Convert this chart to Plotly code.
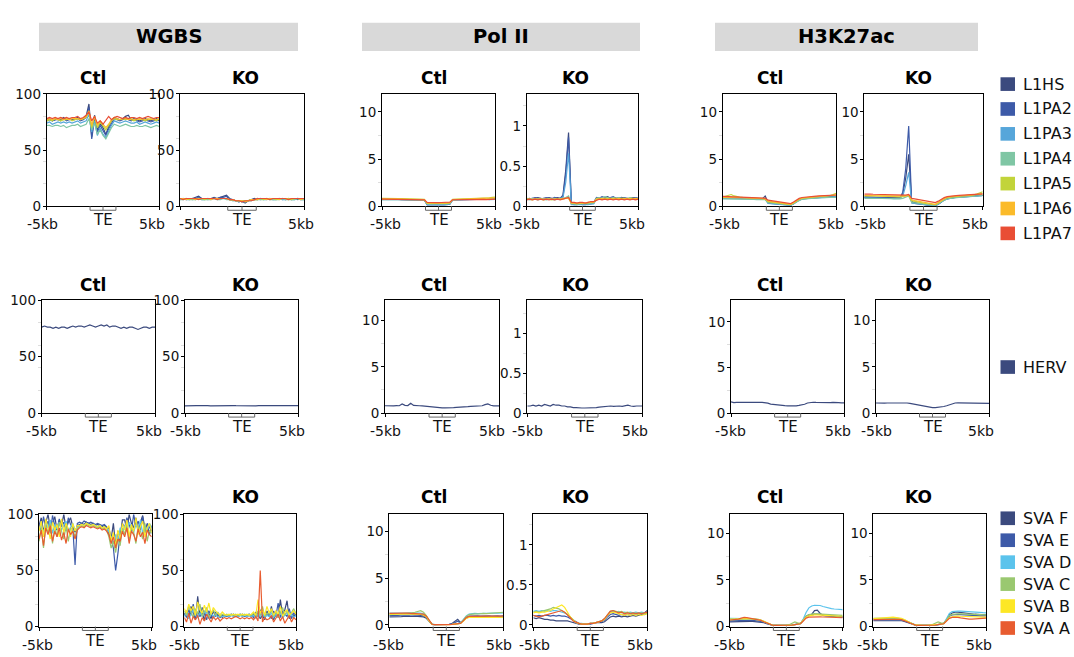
import numpy as np
import plotly.graph_objects as go

W, H = 1074, 657
FONT = "DejaVu Sans, Liberation Sans, Arial, sans-serif"

assays = ["WGBS", "Pol II", "H3K27ac"]
conditions = ["Ctl", "KO"]

L1_names = ["L1HS", "L1PA2", "L1PA3", "L1PA4", "L1PA5", "L1PA6", "L1PA7"]
L1_colors = ["#3b4a7e", "#3d5aa8", "#56a6da", "#7fc6a4", "#c2d43a", "#fbbb2a", "#e94e35"]
HERV_names = ["HERV"]
HERV_colors = ["#3b4a7e"]
SVA_names = ["SVA F", "SVA E", "SVA D", "SVA C", "SVA B", "SVA A"]
SVA_colors = ["#3b4a7e", "#3d5aa8", "#5bc3ec", "#9ac870", "#fde725", "#e85c30"]

# bins along the meta-profile: -5kb .. TE body (scaled) .. +5kb
bins41 = np.linspace(0, 100, 41)
bins51 = np.linspace(0, 100, 51)
te_start, te_end = 38.5, 61.5

x_label_left, x_label_mid, x_label_right = "-5kb", "TE", "5kb"

# ---------------- L1 row ----------------
wgbs_ctl_L1 = [
    [77,78,76,77,78,77,79,77,78,77,78,79,77,78,80, 91,62,81,68,74,70,64,71,76,79, 78,77,78,80,81,77,78,77,76,77,78,77,76,77,78,77],
    [76,77,76,77,77,76,78,76,77,77,77,78,76,77,79, 88,60,78,66,72,67,63,69,74,78, 77,76,77,78,77,76,77,76,75,76,77,76,75,76,77,76],
    [74,75,73,74,75,74,75,74,75,74,75,76,74,75,76, 82,66,76,63,70,64,61,67,72,76, 75,74,75,76,75,74,74,75,73,74,75,74,73,74,75,74],
    [72,72,71,72,72,71,72,70,71,72,72,73,71,72,73, 78,68,74,64,68,63,60,65,70,73, 72,71,72,73,72,71,71,72,71,71,72,71,70,71,72,71],
    [76,77,76,78,77,76,77,77,78,76,77,78,77,78,79, 84,70,80,70,75,72,68,72,76,78, 77,77,78,77,78,77,76,77,78,77,76,77,78,77,76,78],
    [77,78,77,78,77,78,77,78,77,78,78,78,77,78,80, 85,72,80,72,76,73,70,73,77,79, 78,77,78,78,77,78,77,78,77,78,77,78,77,78,77,78],
    [78,79,78,79,78,79,78,79,78,79,79,80,78,79,81, 84,76,80,74,76,73,77,80,77,79, 80,79,78,79,78,79,79,78,79,78,79,80,79,78,79,79],
]
wgbs_ko_L1 = [
    [7,7,6,7,7,8,9,7,7,7,7,8,7,8,9, 10,7,6,5,4,5,3,5,6,7, 6,7,7,7,6,7,7,7,7,6,7,7,7,6,7,7],
    [7,6,7,7,6,7,8,7,7,6,7,7,7,8,8, 9,6,6,5,5,4,4,5,6,6, 7,6,7,7,7,6,7,7,6,7,7,6,7,7,6,7],
    [6,7,6,6,7,6,7,6,6,7,6,7,6,7,7, 7,6,5,5,4,5,4,5,5,6, 6,7,6,6,7,6,6,7,6,6,7,6,6,7,6,6],
    [6,6,7,6,6,6,7,6,6,6,6,7,6,6,7, 6,6,5,5,5,4,5,5,5,6, 6,6,6,7,6,6,6,6,7,6,6,6,6,7,6,6],
    [7,7,7,6,7,7,7,7,6,7,7,7,7,7,7, 7,6,6,5,5,5,5,5,6,6, 7,7,6,7,7,7,6,7,7,7,7,6,7,7,7,7],
    [7,7,6,7,7,6,7,7,7,7,6,7,7,7,7, 7,6,6,5,5,5,4,5,6,6, 6,7,7,6,7,7,7,6,7,7,6,7,7,7,6,7],
    [7,6,7,7,7,7,6,7,7,7,7,7,6,7,7, 7,6,6,5,5,4,5,5,5,6, 7,7,7,7,6,7,7,7,7,7,6,7,7,7,7,7],
]
pol_ctl_L1 = [
    [0.78,0.77,0.78,0.76,0.75,0.76,0.74,0.73,0.74,0.72,0.71,0.72,0.70,0.69,0.68,0.66, 0.22,0.20,0.19,0.20,0.21,0.20,0.22,0.24,0.28, 0.70,0.71,0.72,0.71,0.73,0.72,0.74,0.76,0.73,0.75,0.78,0.74,0.76,0.77,0.75,0.76],
    [0.74,0.75,0.73,0.74,0.73,0.72,0.73,0.71,0.72,0.70,0.71,0.69,0.70,0.68,0.67,0.65, 0.15,0.14,0.13,0.14,0.15,0.14,0.15,0.17,0.22, 0.68,0.69,0.70,0.72,0.71,0.70,0.73,0.72,0.74,0.73,0.75,0.74,0.73,0.75,0.74,0.76],
    [0.72,0.73,0.72,0.71,0.72,0.71,0.70,0.71,0.70,0.69,0.70,0.68,0.69,0.67,0.66,0.65, 0.18,0.17,0.16,0.17,0.18,0.17,0.18,0.20,0.24, 0.67,0.68,0.70,0.69,0.71,0.70,0.72,0.70,0.72,0.74,0.72,0.73,0.75,0.72,0.74,0.73],
    [0.70,0.71,0.70,0.72,0.71,0.70,0.71,0.69,0.70,0.68,0.69,0.68,0.67,0.66,0.66,0.64, 0.25,0.24,0.23,0.24,0.25,0.24,0.25,0.27,0.30, 0.68,0.70,0.69,0.71,0.72,0.74,0.76,0.80,0.78,0.74,0.76,0.78,0.80,0.77,0.78,0.80],
    [0.84,0.85,0.84,0.83,0.84,0.82,0.83,0.82,0.81,0.80,0.81,0.79,0.78,0.77,0.76,0.74, 0.30,0.29,0.28,0.29,0.30,0.29,0.30,0.32,0.35, 0.75,0.76,0.78,0.77,0.79,0.78,0.80,0.82,0.80,0.84,0.86,0.84,0.88,0.90,0.94,0.98],
    [0.80,0.81,0.80,0.80,0.79,0.80,0.79,0.78,0.78,0.77,0.77,0.76,0.75,0.74,0.73,0.72, 0.35,0.34,0.33,0.34,0.35,0.34,0.35,0.37,0.40, 0.72,0.73,0.74,0.75,0.74,0.76,0.75,0.77,0.76,0.78,0.80,0.78,0.82,0.85,0.88,0.90],
    [0.76,0.75,0.76,0.74,0.75,0.74,0.73,0.74,0.72,0.73,0.71,0.72,0.70,0.70,0.69,0.68, 0.42,0.40,0.40,0.41,0.40,0.41,0.42,0.43,0.45, 0.70,0.71,0.70,0.72,0.71,0.73,0.72,0.71,0.73,0.72,0.74,0.73,0.72,0.75,0.74,0.76],
]
pol_ko_L1 = [
    [0.09,0.10,0.09,0.10,0.11,0.10,0.09,0.10,0.11,0.10,0.10,0.11,0.10,0.14,0.45,0.92, 0.04,0.03,0.03,0.04,0.03,0.03,0.04,0.04,0.05, 0.10,0.11,0.10,0.11,0.12,0.10,0.11,0.10,0.09,0.11,0.10,0.09,0.10,0.11,0.10,0.10],
    [0.10,0.09,0.10,0.11,0.10,0.09,0.10,0.11,0.10,0.09,0.11,0.10,0.10,0.12,0.40,0.86, 0.03,0.02,0.02,0.03,0.02,0.02,0.03,0.03,0.04, 0.11,0.10,0.12,0.11,0.10,0.11,0.12,0.10,0.11,0.10,0.11,0.10,0.09,0.10,0.11,0.10],
    [0.09,0.09,0.10,0.09,0.09,0.10,0.09,0.10,0.09,0.09,0.10,0.09,0.10,0.11,0.30,0.66, 0.02,0.02,0.02,0.02,0.02,0.02,0.02,0.03,0.03, 0.09,0.10,0.09,0.10,0.10,0.09,0.10,0.09,0.10,0.09,0.10,0.09,0.10,0.09,0.10,0.09],
    [0.09,0.08,0.09,0.09,0.08,0.09,0.09,0.08,0.09,0.09,0.08,0.09,0.09,0.10,0.11,0.13, 0.03,0.03,0.02,0.03,0.03,0.03,0.03,0.04,0.04, 0.10,0.11,0.10,0.12,0.11,0.10,0.11,0.10,0.11,0.10,0.09,0.10,0.11,0.10,0.09,0.10],
    [0.09,0.09,0.08,0.09,0.09,0.09,0.08,0.09,0.09,0.08,0.09,0.09,0.09,0.09,0.10,0.10, 0.04,0.04,0.03,0.04,0.04,0.04,0.04,0.05,0.05, 0.09,0.10,0.09,0.10,0.10,0.09,0.10,0.10,0.09,0.10,0.10,0.09,0.10,0.10,0.09,0.10],
    [0.09,0.09,0.09,0.09,0.09,0.09,0.09,0.09,0.09,0.09,0.09,0.09,0.09,0.10,0.10,0.10, 0.04,0.04,0.04,0.04,0.04,0.04,0.05,0.05,0.05, 0.09,0.09,0.10,0.09,0.09,0.10,0.09,0.09,0.10,0.09,0.09,0.10,0.09,0.09,0.10,0.09],
    [0.08,0.09,0.08,0.09,0.08,0.09,0.08,0.09,0.08,0.09,0.08,0.09,0.08,0.09,0.10,0.11, 0.05,0.05,0.04,0.05,0.05,0.04,0.05,0.06,0.06, 0.08,0.09,0.08,0.09,0.08,0.09,0.08,0.09,0.08,0.09,0.08,0.09,0.08,0.09,0.08,0.09],
]
h3_ctl_L1 = [
    [0.95,0.93,0.92,0.94,0.90,0.91,0.89,0.88,0.87,0.86,0.85,0.83,0.82,0.80,0.78,1.10, 0.45,0.40,0.35,0.32,0.30,0.26,0.22,0.18,0.15, 0.30,0.55,0.70,0.80,0.85,0.88,0.90,0.92,0.91,0.94,0.95,0.97,0.98,1.00,1.02,1.05],
    [0.90,0.89,0.88,0.90,0.87,0.86,0.85,0.84,0.83,0.82,0.81,0.80,0.79,0.77,0.75,0.85, 0.35,0.30,0.27,0.24,0.22,0.20,0.17,0.14,0.12, 0.28,0.52,0.68,0.78,0.83,0.86,0.88,0.90,0.92,0.93,0.95,0.96,0.98,1.00,1.01,1.03],
    [0.85,0.84,0.83,0.85,0.82,0.82,0.81,0.80,0.79,0.78,0.77,0.76,0.75,0.74,0.72,0.75, 0.30,0.27,0.24,0.22,0.20,0.18,0.15,0.13,0.11, 0.26,0.50,0.66,0.76,0.81,0.84,0.86,0.88,0.89,0.90,0.92,0.93,0.95,0.96,0.98,1.00],
    [0.80,0.80,0.79,0.81,0.79,0.78,0.78,0.77,0.76,0.75,0.74,0.73,0.72,0.71,0.70,0.72, 0.40,0.36,0.32,0.30,0.27,0.24,0.21,0.18,0.16, 0.30,0.52,0.66,0.75,0.80,0.83,0.85,0.87,0.88,0.90,0.91,0.92,0.94,0.95,0.97,0.98],
    [0.98,1.05,1.15,1.25,1.10,1.02,0.98,0.95,0.93,0.92,0.90,0.88,0.86,0.84,0.82,0.80, 0.50,0.45,0.40,0.37,0.34,0.30,0.26,0.22,0.18, 0.34,0.58,0.74,0.84,0.90,0.93,0.95,0.97,0.99,1.01,1.03,1.06,1.10,1.15,1.25,1.38],
    [0.95,0.96,0.95,0.97,0.94,0.93,0.92,0.91,0.90,0.89,0.88,0.86,0.85,0.83,0.81,0.80, 0.55,0.50,0.46,0.42,0.38,0.34,0.30,0.26,0.22, 0.38,0.62,0.78,0.88,0.93,0.96,0.98,1.00,1.02,1.04,1.06,1.08,1.10,1.12,1.14,1.18],
    [1.05,1.04,1.03,1.05,1.02,1.01,1.00,0.98,0.97,0.96,0.95,0.93,0.92,0.90,0.88,0.86, 0.65,0.60,0.56,0.52,0.48,0.44,0.40,0.35,0.30, 0.45,0.68,0.84,0.94,0.98,1.02,1.04,1.06,1.08,1.10,1.12,1.13,1.15,1.16,1.18,1.20],
]
h3_ko_L1 = [
    [1.00,0.98,0.99,0.97,0.96,0.95,0.94,0.93,0.92,0.90,0.89,0.88,0.90,1.30,3.00,5.50, 0.50,0.40,0.32,0.26,0.22,0.18,0.14,0.11,0.10, 0.25,0.50,0.70,0.82,0.90,0.95,0.98,1.00,1.02,1.04,1.06,1.08,1.10,1.12,1.15,1.18],
    [0.95,0.94,0.95,0.93,0.92,0.91,0.90,0.89,0.88,0.87,0.86,0.85,0.88,1.50,4.00,8.50, 0.40,0.32,0.26,0.21,0.17,0.14,0.11,0.09,0.08, 0.22,0.48,0.68,0.80,0.88,0.93,0.96,0.98,1.00,1.02,1.04,1.06,1.08,1.10,1.12,1.15],
    [0.90,0.90,0.89,0.88,0.88,0.87,0.86,0.85,0.84,0.83,0.82,0.82,0.84,1.10,2.20,3.60, 0.35,0.30,0.25,0.20,0.17,0.14,0.12,0.10,0.09, 0.22,0.46,0.66,0.78,0.86,0.90,0.94,0.96,0.98,1.00,1.02,1.04,1.06,1.08,1.10,1.12],
    [0.85,0.86,0.85,0.84,0.84,0.83,0.83,0.82,0.81,0.80,0.80,0.79,0.80,0.85,0.95,1.10, 0.40,0.35,0.30,0.26,0.22,0.19,0.16,0.13,0.12, 0.25,0.48,0.66,0.78,0.85,0.90,0.93,0.95,0.97,0.99,1.01,1.03,1.05,1.07,1.10,1.15],
    [1.10,1.12,1.15,1.12,1.10,1.08,1.06,1.05,1.04,1.02,1.01,1.00,1.00,1.02,1.05,1.15, 0.60,0.52,0.45,0.40,0.35,0.30,0.26,0.22,0.18, 0.35,0.60,0.80,0.92,0.98,1.02,1.05,1.08,1.10,1.12,1.15,1.18,1.22,1.30,1.40,1.55],
    [1.15,1.16,1.15,1.14,1.13,1.12,1.11,1.10,1.09,1.08,1.07,1.06,1.06,1.08,1.10,1.20, 0.70,0.62,0.55,0.48,0.42,0.36,0.30,0.26,0.22, 0.40,0.64,0.84,0.96,1.02,1.06,1.08,1.10,1.12,1.14,1.16,1.18,1.20,1.24,1.28,1.32],
    [1.30,1.32,1.30,1.28,1.27,1.26,1.25,1.24,1.22,1.20,1.18,1.16,1.15,1.15,1.18,1.25, 0.85,0.80,0.74,0.68,0.62,0.56,0.50,0.45,0.40, 0.55,0.76,0.92,1.02,1.08,1.12,1.14,1.16,1.18,1.20,1.22,1.24,1.26,1.28,1.30,1.32],
]

# ---------------- HERV row ----------------
wgbs_ctl_HERV = [[76,77,76,76,75,76,75,76,76,75,76,77,76,77,77,76, 77,78,77,76,77,78,77,78,76, 77,77,76,75,76,75,76,76,75,74,75,76,76,75,76,76]]
wgbs_ko_HERV = [[6.5,6.7,6.6,6.5,6.7,6.6,6.8,6.6,6.7,6.5,6.6,6.7,6.6,6.8,6.9,6.7, 6.6,6.7,6.6,6.5,6.6,6.5,6.6,6.7,6.6, 6.5,6.6,6.7,6.5,6.6,6.6,6.5,6.7,6.6,6.5,6.8,6.6,6.5,6.6,6.7,6.6]]
pol_ctl_HERV = [[0.80,0.78,0.80,0.79,0.82,0.80,1.00,0.85,0.82,1.08,0.84,0.85,0.80,0.78,0.75,0.68, 0.62,0.60,0.58,0.57,0.58,0.57,0.56,0.58,0.60, 0.62,0.66,0.70,0.72,0.70,0.73,0.75,0.72,0.76,0.80,0.92,1.00,0.85,0.78,0.80,0.78]]
pol_ko_HERV = [[0.09,0.09,0.10,0.09,0.10,0.09,0.11,0.10,0.09,0.11,0.10,0.10,0.09,0.09,0.08,0.08, 0.07,0.07,0.065,0.065,0.065,0.065,0.065,0.07,0.07, 0.075,0.08,0.085,0.085,0.09,0.085,0.09,0.09,0.085,0.09,0.10,0.09,0.085,0.09,0.09,0.09]]
h3_ctl_HERV = [[1.25,1.15,1.18,1.20,1.18,1.20,1.18,1.20,1.22,1.18,1.20,1.18,1.16,1.10,1.00,0.95, 0.90,0.87,0.85,0.82,0.80,0.78,0.78,0.80,0.85, 0.90,0.98,1.12,1.18,1.20,1.18,1.16,1.18,1.20,1.18,1.15,1.18,1.20,1.16,1.14,1.12]]
h3_ko_HERV = [[1.10,1.08,1.10,1.09,1.10,1.11,1.10,1.09,1.10,1.11,1.12,1.10,1.06,1.00,0.92,0.85, 0.78,0.72,0.66,0.62,0.60,0.60,0.62,0.66,0.72, 0.80,0.92,1.05,1.10,1.11,1.10,1.09,1.10,1.08,1.09,1.07,1.08,1.06,1.05,1.06,1.05]]

# ---------------- SVA row ----------------
wgbs_ctl_SVA = [
    [90,97,85,93,100,88,92,98,86,95,90,100,87,93,97,89,84,90, 91,92,91,93,92,91,92,90,91,90,89,90,88, 88,78,92,72,85,80,95, 95,86,100,92,88,97,84,93,99,87,91,82,90],
    [92,85,98,88,94,83,99,90,86,96,89,93,85,97,91,88,55,92, 93,92,94,93,92,93,92,91,92,91,90,91,89, 82,78,70,50,65,82,92, 88,97,90,85,100,89,94,86,98,83,92,88,85],
    [86,90,84,92,88,95,83,91,87,93,86,90,94,85,89,92,86,88, 90,91,90,92,91,90,91,90,89,90,88,89,87, 85,80,74,82,76,88,84, 90,85,93,88,84,91,87,95,83,90,86,92,88],
    [76,88,70,90,84,92,74,89,80,93,85,78,90,76,88,86,80,87, 89,90,89,91,90,89,90,89,88,89,87,88,86, 80,70,76,66,78,72,88, 82,92,76,88,84,74,90,85,78,92,76,86,83],
    [85,94,80,96,88,78,93,86,91,80,96,84,92,87,80,92,85,90, 90,91,90,92,91,90,91,90,89,90,88,89,87, 90,76,84,72,86,78,92, 86,95,80,91,85,97,82,89,94,80,88,92,84],
    [78,86,72,88,82,90,76,85,80,88,77,84,74,87,82,85,78,86, 88,89,88,90,89,88,89,88,87,88,86,87,85, 82,74,80,70,78,76,85, 80,88,74,85,82,76,87,80,84,74,86,82,80],
]
wgbs_ko_SVA = [
    [10,14,8,18,12,6,27,9,13,5,16,11,7,14,9,12,8,10, 9,10,9,10,11,10,9,10,11,10,9,10,9, 11,8,12,7,10,6,14, 9,18,6,12,8,24,10,15,23,7,12,9,11],
    [12,8,15,10,20,7,13,9,17,11,6,14,10,8,13,9,11,8, 10,9,10,11,10,9,10,11,10,9,10,11,10, 8,13,9,15,11,8,12, 10,7,14,9,21,8,13,11,9,16,7,12,10],
    [9,13,7,11,15,10,8,12,9,14,10,7,12,9,11,8,10,9, 9,10,9,10,9,10,9,10,9,10,9,10,9, 10,8,11,9,12,8,10, 9,12,8,11,9,13,8,10,12,9,11,8,10],
    [14,10,18,12,8,16,11,20,9,13,17,8,12,15,10,13,9,11, 10,11,10,11,10,11,10,11,10,11,10,11,10, 12,9,14,10,18,9,12, 11,15,9,13,8,12,17,10,14,9,12,16,11],
    [16,12,20,14,18,10,22,15,12,19,13,21,11,17,14,12,10,13, 11,10,11,10,11,10,11,10,11,10,11,10,11, 13,10,24,12,15,10,18, 12,16,10,14,11,18,9,13,15,10,12,14,11],
    [8,4,12,3,9,6,10,2,8,5,11,7,4,9,6,8,5,7, 8,7,8,7,8,9,8,7,8,7,8,7,8, 6,9,5,50,4,8,6, 7,10,4,8,11,5,9,3,7,10,4,8,6],
]
pol_ctl_SVA = [
    [0.85,0.84,0.86,0.88,0.87,0.90,0.88,0.92,0.90,0.93,0.92,0.90,0.85,0.70,0.35,0.05, 0.02,0.01,0.02,0.01,0.02,0.05,0.15,0.35,0.60, 0.25,0.45,0.75,0.85,0.88,0.86,0.84,0.85,0.83,0.85,0.84,0.86,0.85,0.84,0.86,0.85],
    [1.00,0.98,1.02,1.00,1.05,1.03,1.06,1.05,1.08,1.06,1.05,1.02,0.98,0.80,0.40,0.06, 0.03,0.02,0.02,0.02,0.03,0.04,0.10,0.25,0.40, 0.20,0.50,0.80,0.95,0.98,0.96,0.97,0.95,0.98,0.96,0.97,0.95,0.98,0.96,0.95,0.97],
    [1.25,1.24,1.26,1.25,1.27,1.25,1.26,1.28,1.27,1.29,1.28,1.25,1.18,0.95,0.45,0.08, 0.04,0.03,0.03,0.03,0.04,0.04,0.06,0.08,0.10, 0.20,0.55,0.95,1.15,1.20,1.22,1.20,1.22,1.24,1.22,1.25,1.23,1.26,1.25,1.27,1.28],
    [1.10,1.12,1.10,1.13,1.15,1.14,1.18,1.22,1.28,1.35,1.45,1.52,1.35,1.00,0.45,0.08, 0.04,0.03,0.03,0.03,0.04,0.04,0.06,0.08,0.10, 0.18,0.50,0.90,1.10,1.15,1.18,1.16,1.20,1.22,1.20,1.24,1.25,1.28,1.30,1.32,1.35],
    [1.15,1.14,1.16,1.15,1.14,1.16,1.15,1.14,1.15,1.16,1.14,1.12,1.05,0.85,0.40,0.06, 0.03,0.02,0.02,0.02,0.03,0.03,0.05,0.07,0.09, 0.15,0.40,0.70,0.82,0.80,0.82,0.80,0.81,0.80,0.82,0.81,0.80,0.82,0.81,0.80,0.82],
    [1.22,1.24,1.23,1.25,1.24,1.26,1.25,1.24,1.26,1.25,1.24,1.22,1.15,0.92,0.45,0.07, 0.03,0.02,0.02,0.02,0.03,0.03,0.05,0.07,0.09, 0.15,0.45,0.78,0.90,0.92,0.94,0.92,0.95,0.93,0.94,0.95,0.93,0.94,0.95,0.94,0.95],
]
pol_ko_SVA = [
    [0.09,0.08,0.09,0.08,0.07,0.07,0.06,0.06,0.05,0.05,0.05,0.05,0.05,0.04,0.03,0.02, 0.01,0.01,0.01,0.01,0.01,0.02,0.03,0.03,0.03, 0.04,0.07,0.10,0.11,0.10,0.11,0.10,0.11,0.10,0.11,0.12,0.11,0.12,0.13,0.15,0.18],
    [0.12,0.11,0.12,0.11,0.12,0.12,0.11,0.12,0.11,0.12,0.11,0.11,0.10,0.08,0.05,0.03, 0.02,0.01,0.01,0.01,0.02,0.02,0.03,0.04,0.04, 0.06,0.10,0.13,0.14,0.13,0.12,0.13,0.12,0.13,0.12,0.13,0.14,0.13,0.14,0.13,0.15],
    [0.17,0.18,0.17,0.18,0.17,0.18,0.17,0.18,0.18,0.17,0.16,0.15,0.13,0.10,0.06,0.03, 0.02,0.02,0.01,0.01,0.02,0.02,0.03,0.04,0.05, 0.07,0.12,0.16,0.17,0.16,0.17,0.15,0.16,0.15,0.16,0.15,0.16,0.15,0.16,0.15,0.16],
    [0.16,0.17,0.16,0.17,0.18,0.19,0.20,0.22,0.21,0.20,0.18,0.16,0.13,0.10,0.06,0.03, 0.02,0.01,0.01,0.01,0.02,0.02,0.03,0.04,0.05, 0.08,0.13,0.17,0.18,0.17,0.16,0.17,0.15,0.16,0.15,0.14,0.15,0.14,0.15,0.14,0.15],
    [0.15,0.16,0.15,0.16,0.16,0.17,0.18,0.20,0.22,0.24,0.25,0.22,0.16,0.10,0.06,0.03, 0.02,0.01,0.01,0.01,0.02,0.02,0.03,0.04,0.05, 0.07,0.12,0.15,0.16,0.15,0.14,0.13,0.12,0.13,0.12,0.13,0.12,0.13,0.12,0.13,0.14],
    [0.12,0.11,0.10,0.11,0.12,0.13,0.14,0.15,0.16,0.17,0.18,0.16,0.13,0.09,0.05,0.03, 0.02,0.01,0.01,0.01,0.02,0.02,0.03,0.04,0.05, 0.08,0.13,0.17,0.18,0.16,0.15,0.16,0.14,0.15,0.14,0.15,0.14,0.15,0.14,0.15,0.16],
]
h3_ctl_SVA = [
    [0.50,0.52,0.50,0.53,0.52,0.55,0.54,0.56,0.55,0.53,0.52,0.48,0.42,0.32,0.22,0.15, 0.12,0.11,0.11,0.12,0.12,0.13,0.15,0.20,0.30, 0.35,0.70,1.10,1.25,1.30,1.70,1.75,1.40,1.20,1.15,1.12,1.10,1.08,1.06,1.05,1.04],
    [0.60,0.62,0.63,0.64,0.65,0.66,0.66,0.67,0.66,0.64,0.62,0.56,0.46,0.34,0.22,0.15, 0.12,0.11,0.11,0.12,0.12,0.13,0.15,0.18,0.25, 0.30,0.65,1.05,1.20,1.28,1.30,1.32,1.28,1.25,1.20,1.15,1.10,1.08,1.05,1.02,1.00],
    [0.88,0.86,0.84,0.82,0.82,0.84,0.85,0.86,0.85,0.82,0.78,0.70,0.55,0.40,0.26,0.17, 0.13,0.12,0.12,0.12,0.13,0.14,0.15,0.18,0.22, 0.30,0.80,1.50,2.00,2.20,2.28,2.28,2.25,2.15,2.05,1.98,1.92,1.88,1.85,1.82,1.82],
    [0.72,0.74,0.75,0.76,0.78,0.80,0.80,0.82,0.80,0.78,0.74,0.66,0.52,0.38,0.25,0.16, 0.13,0.12,0.12,0.13,0.15,0.20,0.35,0.50,0.40, 0.35,0.70,1.10,1.28,1.35,1.38,1.36,1.35,1.32,1.30,1.28,1.25,1.24,1.22,1.21,1.20],
    [0.80,0.82,0.82,0.84,0.85,0.86,0.86,0.85,0.84,0.82,0.78,0.70,0.56,0.40,0.26,0.17, 0.13,0.12,0.12,0.12,0.13,0.14,0.16,0.20,0.25, 0.30,0.65,1.00,1.15,1.22,1.25,1.26,1.25,1.22,1.20,1.18,1.15,1.13,1.12,1.10,1.10],
    [0.70,0.72,0.74,0.80,0.90,0.98,0.96,0.90,0.85,0.80,0.75,0.66,0.52,0.38,0.25,0.16, 0.13,0.12,0.12,0.12,0.13,0.14,0.16,0.20,0.25, 0.30,0.60,0.90,1.00,1.02,1.04,1.05,1.03,1.02,1.00,0.98,0.97,0.96,0.95,0.95,0.94],
]
h3_ko_SVA = [
    [0.62,0.62,0.63,0.64,0.64,0.65,0.66,0.66,0.65,0.64,0.62,0.56,0.45,0.32,0.22,0.15, 0.12,0.11,0.11,0.11,0.12,0.13,0.15,0.20,0.28, 0.35,0.75,1.25,1.45,1.55,1.55,1.50,1.45,1.40,1.38,1.35,1.32,1.30,1.28,1.26,1.25],
    [0.70,0.70,0.71,0.72,0.72,0.73,0.74,0.74,0.73,0.72,0.70,0.62,0.50,0.35,0.23,0.15, 0.12,0.11,0.11,0.11,0.12,0.13,0.15,0.18,0.24, 0.32,0.70,1.10,1.25,1.30,1.30,1.28,1.25,1.22,1.20,1.18,1.17,1.16,1.15,1.15,1.14],
    [0.80,0.80,0.81,0.82,0.82,0.83,0.84,0.84,0.83,0.82,0.78,0.70,0.56,0.40,0.26,0.17, 0.13,0.12,0.12,0.12,0.13,0.14,0.16,0.18,0.22, 0.30,0.80,1.40,1.60,1.65,1.66,1.65,1.62,1.60,1.58,1.55,1.53,1.52,1.50,1.48,1.47],
    [0.88,0.89,0.90,0.90,0.91,0.92,0.92,0.92,0.91,0.88,0.82,0.72,0.56,0.40,0.26,0.16, 0.13,0.12,0.12,0.13,0.15,0.22,0.38,0.50,0.40, 0.35,0.72,1.15,1.30,1.35,1.36,1.35,1.33,1.32,1.30,1.29,1.28,1.27,1.26,1.25,1.25],
    [0.85,0.86,0.88,0.90,0.92,0.95,0.98,1.00,0.98,0.94,0.88,0.76,0.58,0.40,0.26,0.17, 0.13,0.12,0.12,0.12,0.13,0.14,0.16,0.20,0.25, 0.30,0.65,0.95,1.05,1.10,1.12,1.10,1.08,1.06,1.05,1.04,1.03,1.02,1.01,1.00,1.00],
    [0.75,0.76,0.76,0.77,0.78,0.78,0.79,0.80,0.79,0.78,0.74,0.66,0.52,0.38,0.25,0.16, 0.13,0.12,0.12,0.12,0.13,0.14,0.16,0.20,0.25, 0.30,0.60,0.88,0.98,1.00,0.98,0.92,0.86,0.82,0.80,0.80,0.82,0.84,0.86,0.88,0.90],
]

row_series = [
    (L1_names, L1_colors, [wgbs_ctl_L1, wgbs_ko_L1, pol_ctl_L1, pol_ko_L1, h3_ctl_L1, h3_ko_L1], [bins41] * 6),
    (HERV_names, HERV_colors, [wgbs_ctl_HERV, wgbs_ko_HERV, pol_ctl_HERV, pol_ko_HERV, h3_ctl_HERV, h3_ko_HERV], [bins41] * 6),
    (SVA_names, SVA_colors, [wgbs_ctl_SVA, wgbs_ko_SVA, pol_ctl_SVA, pol_ko_SVA, h3_ctl_SVA, h3_ko_SVA], [bins51, bins51] + [bins41] * 4),
]

# ---------------- layout geometry (pixels) ----------------
panel_x = [
    [(46.7, 159.3), (180, 304), (382, 495), (526.7, 638.3), (722.7, 836), (864.3, 982.7)],
    [(41.7, 155), (185, 298.3), (385, 499.3), (527.3, 642.3), (731, 844.3), (876, 989)],
    [(39, 151.7), (184.3, 296), (389.3, 503.3), (533.3, 647.3), (730, 842.7), (873.3, 986)],
]
panel_y = [(88, 203.3), (299.3, 415.3), (519, 634)]
# horizontal offsets (px) of the "-5kb" / "5kb" label centres from the panel edges
lab_dx_left = [[-4, 14, 3, -2.5, 1.5, 6.5], [0, 0, 0, 0.5, -1, 0], [-2, 0, -1, 1.5, -1, -1]]
lab_dx_right = [[-7.5, -3, -6, -6.5, -5, -7.5], [-6, -6.5, -7, -7, -6.5, -8], [-7.5, -5, -4.5, -7, -7.5, -7.5]]
yaxis_cfg = [
    [([0, 100], [0, 50, 100], 20), ([0, 100], [0, 50, 100], 20), ([0, 11.9], [0, 5, 10], 2.5),
     ([0, 1.4], [0, 0.5, 1], 0.25), ([0, 11.9], [0, 5, 10], 2.5), ([0, 11.9], [0, 5, 10], 2.5)],
    [([0, 100], [0, 50, 100], 20), ([0, 100], [0, 50, 100], 20), ([0, 12.2], [0, 5, 10], 2.5),
     ([0, 1.42], [0, 0.5, 1], 0.25), ([0, 12.4], [0, 5, 10], 2.5), ([0, 12.2], [0, 5, 10], 2.5)],
    [([0, 100], [0, 50, 100], 20), ([0, 100], [0, 50, 100], 20), ([-0.18, 11.8], [0, 5, 10], 2.5),
     ([-0.02, 1.38], [0, 0.5, 1], 0.25), ([0, 12], [0, 5, 10], 2.5), ([0, 12], [0, 5, 10], 2.5)],
]
title_x = [93, 245, 434, 575, 770, 918]
title_y = [71.5, 284, 501.5]
header_boxes = [(39, 298), (362, 640), (715, 978)]
legend_y = [[78, 103.5, 129, 154.5, 180, 205.5, 231], [368], [523, 545.5, 568, 590.5, 613, 635.5]]


def fx(px):
    return px / W


def fy(py):
    return 1 - py / H


def fmt(v):
    return "%g" % v


def sfx(i):
    return "" if i == 1 else str(i)


fig = go.Figure()
layout = dict(
    width=W, height=H, autosize=False,
    margin=dict(l=0, r=0, t=0, b=0),
    paper_bgcolor="white", plot_bgcolor="white",
    font=dict(family=FONT, color="black", size=13),
    showlegend=False,
)
shapes = []
annotations = []
TICKFONT = dict(size=13.5, family=FONT, color="#111")

idx = 0
for r, (names, colors, panels, grids) in enumerate(row_series):
    top, bot = panel_y[r]
    ph = bot - top
    for p in range(6):
        idx += 1
        s = sfx(idx)
        x0, x1 = panel_x[r][p]
        yr, ytv, ydt = yaxis_cfg[r][p]
        xs = grids[p]
        for name, col, vals in zip(names, colors, panels[p]):
            assert len(vals) == len(xs), (r, p, name, len(vals))
            fig.add_trace(go.Scatter(
                x=xs, y=vals, mode="lines", name=name,
                line=dict(color=col, width=1.2),
                xaxis="x" + s, yaxis="y" + s, hoverinfo="skip", showlegend=False,
            ))
        layout["xaxis" + s] = dict(
            domain=[fx(x0), fx(x1)], range=[0, 100], anchor="y" + s,
            tickvals=[0, 100], ticks="outside", ticklen=3, showticklabels=False,
            tickcolor="black", showline=True, linecolor="black", linewidth=1,
            mirror=True, showgrid=False, zeroline=False, fixedrange=True,
        )
        layout["yaxis" + s] = dict(
            domain=[fy(bot), fy(top)], range=yr, anchor="x" + s,
            tickvals=ytv, ticktext=[fmt(v) for v in ytv], ticks="outside", ticklen=3,
            tickcolor="black", showline=True, linecolor="black", linewidth=1,
            mirror=True, showgrid=False, zeroline=False, ticklabelstandoff=-1,
            tickfont=TICKFONT, fixedrange=True,
            minor=dict(dtick=ydt, tick0=0, ticks="outside", ticklen=3, tickcolor="#dddddd", showgrid=False),
        )
        # TE bracket under the x axis
        d = 4.0 / ph
        br = dict(color="#666666", width=1)
        for (xa, xb, ya, yb) in [(te_start, te_start, 0, -d), (te_end, te_end, 0, -d),
                                 (te_start, te_end, -d, -d), (50, 50, 0, -d)]:
            shapes.append(dict(type="line", xref="x" + s, yref="y" + s + " domain",
                               x0=xa, x1=xb, y0=ya, y1=yb, line=br))
        # x-axis labels: -5kb (left edge), TE (centre), 5kb (right edge)
        annotations.append(dict(text=x_label_left, x=fx(x0 + lab_dx_left[r][p]), xref="paper",
                                y=-18.5 / ph, yref="y" + s + " domain", showarrow=False,
                                xanchor="center", yanchor="middle",
                                font=dict(size=14, family=FONT, color="#111")))
        annotations.append(dict(text=x_label_right, x=fx(x1 + lab_dx_right[r][p]), xref="paper",
                                y=-18.5 / ph, yref="y" + s + " domain", showarrow=False,
                                xanchor="center", yanchor="middle",
                                font=dict(size=14, family=FONT, color="#111")))
        annotations.append(dict(text=x_label_mid, x=50, xref="x" + s,
                                y=-14.5 / ph, yref="y" + s + " domain", showarrow=False,
                                xanchor="center", yanchor="middle",
                                font=dict(size=15, family=FONT, color="#111")))
        annotations.append(dict(text=f"<b>{conditions[p % 2]}</b>", x=fx(title_x[p]), y=fy(title_y[r]),
                                xref="paper", yref="paper", showarrow=False,
                                xanchor="center", yanchor="middle",
                                font=dict(size=17, family=FONT, color="black")))
    for name, col, yc in zip(names, colors, legend_y[r]):
        shapes.append(dict(type="rect", xref="paper", yref="paper",
                           x0=fx(1000.5), x1=fx(1015), y0=fy(yc + 7), y1=fy(yc - 7),
                           fillcolor=col, line=dict(width=0)))
        annotations.append(dict(text=name, x=fx(1021), y=fy(yc), xref="paper", yref="paper",
                                showarrow=False, xanchor="left", yanchor="middle",
                                font=dict(size=16, family=FONT, color="#111")))

for (hx0, hx1), title in zip(header_boxes, assays):
    shapes.append(dict(type="rect", xref="paper", yref="paper", layer="below",
                       x0=fx(hx0), x1=fx(hx1), y0=fy(44), y1=fy(15),
                       fillcolor="#d9d9d9", line=dict(width=0)))
    annotations.append(dict(text=f"<b>{title}</b>", x=fx((hx0 + hx1) / 2), y=fy(29.5),
                            xref="paper", yref="paper", showarrow=False,
                            xanchor="center", yanchor="middle",
                            font=dict(size=19.5, family=FONT, color="black")))

layout["shapes"] = shapes
layout["annotations"] = annotations
fig.update_layout(**layout)
fig.write_html(
    "out.html",
    config={"displayModeBar": False, "staticPlot": True},
    post_script="document.body.style.margin='0';document.body.style.overflow='hidden';",
)
